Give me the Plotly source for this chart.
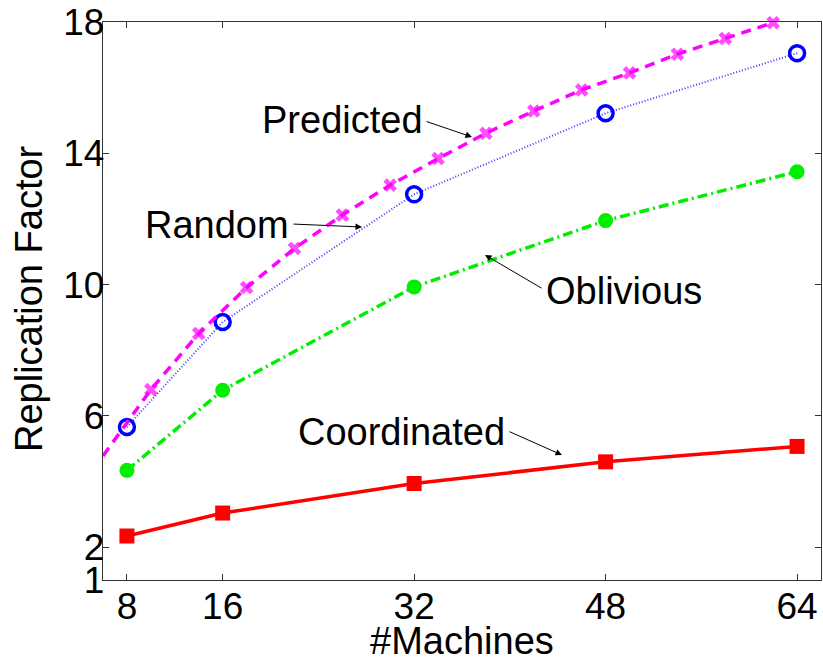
import plotly.graph_objects as go

# ---- data ----
machines = [8, 16, 32, 48, 64]
coordinated = [2.34, 3.04, 3.94, 4.60, 5.07]
oblivious = [4.34, 6.78, 9.93, 11.95, 13.44]
random_rf = [5.66, 8.86, 12.75, 15.22, 17.05]
pred_x = [6, 10, 14, 18, 22, 26, 30, 34, 38, 42, 46, 50, 54, 58, 62]
predicted = [4.78, 6.80, 8.51, 9.91, 11.10, 12.12, 13.03, 13.84, 14.61,
             15.29, 15.93, 16.45, 17.02, 17.50, 17.98]
x_ticks = [8, 16, 32, 48, 64]
y_ticks = [1, 2, 6, 10, 14, 18]

W, H = 823, 659
ML, MR, MT, MB = 103, 2, 22, 79
XR = [6, 66]
YR = [1, 18]
FONT = "Liberation Sans, Arial, Helvetica, sans-serif"


def px2x(px):
    return XR[0] + (px - ML) / (W - ML - MR) * (XR[1] - XR[0])


def py2y(py):
    return YR[1] - (py - MT) / (H - MT - MB) * (YR[1] - YR[0])


fig = go.Figure()

fig.add_trace(go.Scatter(
    x=machines, y=coordinated, name="Coordinated", mode="lines+markers",
    line=dict(color="#ff0000", width=3.5),
    marker=dict(symbol="square", size=15, color="#ff0000"),
))
fig.add_trace(go.Scatter(
    x=machines, y=oblivious, name="Oblivious", mode="lines+markers",
    line=dict(color="#00ee00", width=3.5, dash="10px,4px,2px,4px"),
    marker=dict(symbol="circle", size=15, color="#00ee00"),
))
fig.add_trace(go.Scatter(
    x=machines, y=random_rf, name="Random", mode="lines+markers",
    line=dict(color="#4040ff", width=2, dash="1px,2px"),
    marker=dict(symbol="circle-open", size=15, color="#0000ff",
                line=dict(width=3.5, color="#0000ff")),
))
pred_sizes = [0] + [12] * (len(pred_x) - 1)
fig.add_trace(go.Scatter(
    x=pred_x, y=predicted, name="Predicted", mode="lines+markers",
    line=dict(color="#ff00ff", width=3.5, dash="10px,7px"),
    marker=dict(symbol="x", size=pred_sizes, color="#ff00ff",
                line=dict(width=0)),
    cliponaxis=False,
))

labels = [
    ("Predicted", 342, 120, (425, 121), (472, 137)),
    ("Random", 217, 225, (292, 224), (362, 227)),
    ("Oblivious", 624, 291, (543, 289), (485, 255)),
    ("Coordinated", 401, 432, (508, 431), (562, 455)),
]
annotations = []
for txt, cx, cy, tail, head in labels:
    annotations.append(dict(
        x=px2x(cx), y=py2y(cy), xref="x", yref="y", text=txt,
        showarrow=False, font=dict(family=FONT, size=38, color="black"),
        xanchor="center", yanchor="middle",
    ))
    annotations.append(dict(
        x=px2x(head[0]), y=py2y(head[1]), xref="x", yref="y",
        ax=px2x(tail[0]), ay=py2y(tail[1]), axref="x", ayref="y",
        text="", showarrow=True, arrowhead=2, arrowsize=1.3,
        arrowwidth=1, arrowcolor="black",
    ))

# axis titles as paper annotations
annotations.append(dict(
    x=(462 - ML) / (W - ML - MR), y=-(641 - (H - MB)) / (H - MT - MB),
    xref="paper", yref="paper", text="#Machines", showarrow=False,
    font=dict(family=FONT, size=38, color="black"),
    xanchor="center", yanchor="middle",
))
annotations.append(dict(
    x=-(ML - 29) / (W - ML - MR), y=((H - MB) - 299) / (H - MT - MB),
    xref="paper", yref="paper", text="Replication Factor", showarrow=False,
    textangle=-90, font=dict(family=FONT, size=38, color="black"),
    xanchor="center", yanchor="middle",
))

axis_common = dict(
    showgrid=False, zeroline=False, showline=True, linecolor="#333333",
    linewidth=1.3, mirror="allticks", ticks="inside", ticklen=6,
    tickwidth=1, tickcolor="#333333", automargin=False,
    tickfont=dict(family=FONT, size=37, color="black"),
)

fig.update_layout(
    width=W, height=H,
    margin=dict(l=ML, r=MR, t=MT, b=MB, pad=0),
    paper_bgcolor="white", plot_bgcolor="white",
    showlegend=False,
    annotations=annotations,
    xaxis=dict(range=XR, tickvals=x_ticks, ticktext=[str(v) for v in x_ticks],
               ticklabelstandoff=-7, **axis_common),
    yaxis=dict(range=YR, tickvals=y_ticks, ticktext=[str(v) for v in y_ticks],
               ticklabelstandoff=-10, **axis_common),
)

fig.write_html(
    "out.html",
    config={"displayModeBar": False},
    post_script="document.body.style.margin='0';document.body.style.padding='0';",
)
